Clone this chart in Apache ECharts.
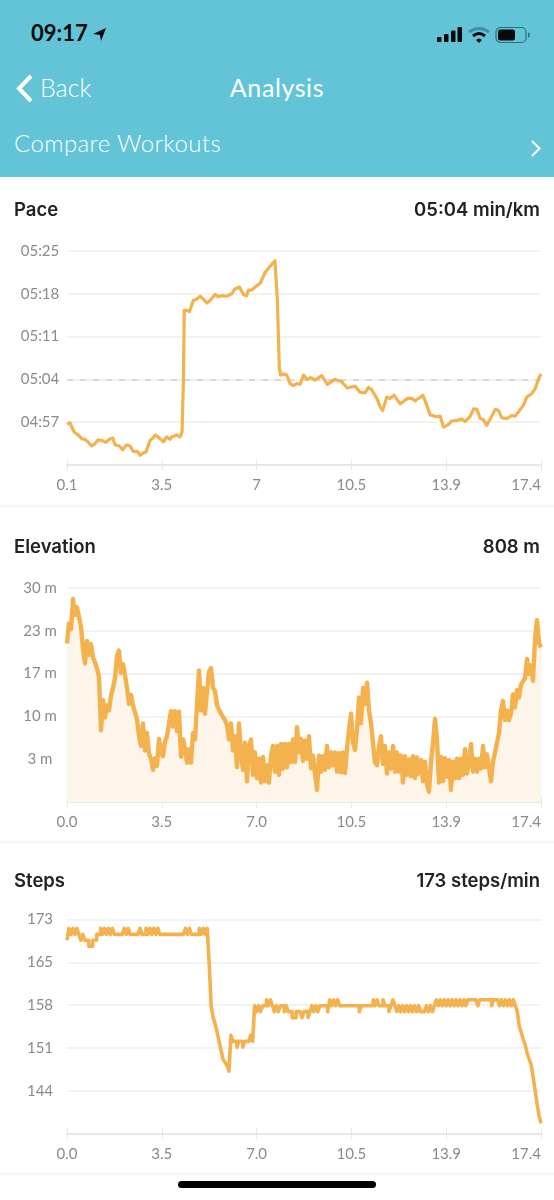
<![CDATA[<!DOCTYPE html>
<html lang="en">

<head>
    <meta charset="UTF-8">
    <meta name="viewport" content="width=device-width, initial-scale=1.0">
    <title>Analysis</title>
    <script src="https://cdn.jsdelivr.net/npm/echarts@6/dist/echarts.min.js"></script>
</head>
<style>
    html, body { margin: 0; padding: 0; background: #fff; }
    #page { position: relative; width: 554px; height: 1200px; overflow: hidden; font-family: Lato, sans-serif; }
    #chart { position: absolute; top: 0; left: 0; width: 554px; height: 1200px; }
    #top { position: absolute; top: 0; left: 0; width: 554px; height: 177px; background: #62c4d6; color: #fff; }
    #top div, #top svg { position: absolute; }
    #time { left: 31px; top: 19px; font-size: 22px; font-weight: 700; color: #0a0a0a; }
    #back { left: 40px; top: 72px; font-size: 25px; font-weight: 300; }
    #name { left: 0; width: 554px; text-align: center; top: 72px; font-size: 25px; font-weight: 400; letter-spacing: .6px; }
    #compare { left: 14px; top: 128px; font-size: 24px; font-weight: 300; letter-spacing: .4px; }
    #home { position: absolute; left: 178px; top: 1181px; width: 198px; height: 7px; border-radius: 4px; background: #000; }
</style>

<body>
    <div id="page">
        <div id="chart"></div>
        <!-- header -->
        <div id="top">
            <div id="time">09:17</div>
            <svg style="left:92px;top:27px" width="15" height="15" viewBox="0 0 15 15"><path d="M1 7 L14 1 L9 14 L8 8 Z" fill="#0a0a0a"/></svg>
            <svg style="left:436px;top:26px" width="28" height="17" viewBox="0 0 28 17" fill="#0a0a0a">
                <rect x="1" y="11" width="4.5" height="5" rx="1"/><rect x="8" y="8" width="4.5" height="8" rx="1"/>
                <rect x="15" y="4.5" width="4.5" height="11.5" rx="1"/><rect x="21.5" y="1" width="4.5" height="15" rx="1"/>
            </svg>
            <svg style="left:468px;top:26px" width="22" height="18" viewBox="0 0 22 18" fill="none">
                <path d="M1 6 Q11 -1 21 6" stroke="#3e8f9f" stroke-width="3"/>
                <path d="M5 10 Q11 5 17 10" stroke="#0a0a0a" stroke-width="3"/>
                <path d="M8 14 L11 17 L14 14 Q11 11 8 14 Z" fill="#0a0a0a"/>
            </svg>
            <svg style="left:495px;top:26px" width="36" height="18" viewBox="0 0 36 18">
                <rect x="1" y="1.5" width="30" height="15" rx="4.5" fill="none" stroke="#2a6f7c" stroke-width="1.2"/>
                <rect x="3" y="3.5" width="17" height="11" rx="2.5" fill="#0a0a0a"/>
                <rect x="33" y="6.5" width="1.6" height="5" rx=".8" fill="#2a6f7c"/>
            </svg>
            <svg style="left:16px;top:74px" width="18" height="29" viewBox="0 0 18 29"><path d="M15 2 L3 14.5 L15 27" fill="none" stroke="#fff" stroke-width="4"/></svg>
            <div id="back">Back</div>
            <div id="name">Analysis</div>
            <div id="compare">Compare Workouts</div>
            <svg style="left:530px;top:139px" width="12" height="19" viewBox="0 0 12 19"><path d="M2 2 L9.5 9.5 L2 17" fill="none" stroke="#fff" stroke-width="2"/></svg>
        </div>
        <div id="home"></div>
    </div>

    <script>
        // tick labels, bottom one of each y axis is left blank
        var distanceTicksPace = ["0.1", "3.5", "7", "10.5", "13.9", "17.4"];
        var distanceTicks = ["0.0", "3.5", "7.0", "10.5", "13.9", "17.4"];
        var paceTicks = ["", "04:57", "05:04", "05:11", "05:18", "05:25"];
        var elevationTicks = ["", "3 m", "10 m", "17 m", "23 m", "30 m"];
        var stepsTicks = ["", "144", "151", "158", "165", "173"];

        // pace, km and seconds per km
        var paceKm = [0.10, 0.21, 0.27, 0.36, 0.51, 0.64, 0.76, 0.88, 1.00, 1.12, 1.24, 1.37, 1.52, 1.67, 1.77, 1.85, 2.01, 2.13, 2.28, 2.40,
            2.52, 2.67, 2.77, 2.89, 2.98, 3.13, 3.23, 3.33, 3.47, 3.62, 3.74, 3.86, 3.92, 4.01, 4.10, 4.23, 4.30, 4.35, 4.38, 4.47,
            4.57, 4.71, 4.83, 4.96, 5.08, 5.20, 5.32, 5.50, 5.63, 5.75, 5.93, 6.11, 6.23, 6.39, 6.54, 6.66, 6.72, 6.84, 7.02, 7.15,
            7.33, 7.51, 7.69, 7.73, 7.78, 7.85, 7.90, 8.00, 8.12, 8.24, 8.36, 8.49, 8.61, 8.73, 8.87, 9.00, 9.15, 9.40, 9.60, 9.88,
            10.13, 10.33, 10.61, 10.80, 10.98, 11.10, 11.22, 11.41, 11.53, 11.62, 11.77, 11.89, 12.04, 12.26, 12.53, 12.68, 12.81, 13.09, 13.23, 13.35,
            13.60, 13.72, 13.84, 14.02, 14.14, 14.33, 14.51, 14.63, 14.81, 14.94, 15.06, 15.18, 15.30, 15.42, 15.57, 15.73, 15.85, 15.97, 16.15, 16.34,
            16.46, 16.58, 16.76, 16.88, 17.07, 17.19, 17.31, 17.40];
        var paceSec = [296.7, 296.9, 296.8, 295.4, 294.9, 294.3, 294.2, 293.7, 293.1, 293.5, 294.1, 294.0, 293.7, 294.3, 294.4, 293.3, 293.1, 292.5, 293.3, 293.1,
            292.2, 292.2, 291.6, 292.0, 292.1, 294.0, 294.4, 294.9, 294.4, 293.8, 294.6, 294.2, 294.6, 294.7, 294.9, 294.6, 295.4, 304.1, 315.3, 315.3,
            315.1, 316.9, 317.1, 317.6, 317.1, 316.5, 316.9, 317.9, 317.5, 317.7, 317.6, 318.0, 318.8, 319.1, 317.9, 317.7, 318.6, 318.6, 319.3, 319.7,
            321.5, 322.5, 323.4, 323.4, 316.7, 305.8, 304.7, 304.9, 304.7, 303.3, 303.0, 303.3, 303.2, 304.7, 304.0, 304.3, 303.9, 304.6, 303.2, 304.0,
            303.6, 302.6, 302.9, 301.9, 301.8, 302.7, 302.3, 300.9, 299.5, 298.9, 301.1, 300.9, 301.4, 300.0, 300.9, 300.9, 300.5, 301.4, 299.8, 298.2,
            297.9, 298.0, 296.2, 296.6, 297.2, 297.3, 297.5, 297.1, 297.9, 299.2, 299.1, 297.6, 297.4, 296.5, 297.7, 299.1, 298.9, 297.7, 297.6, 298.1,
            298.0, 298.7, 299.8, 301.1, 301.7, 302.5, 304.1, 304.9];

        // elevation in m, samples are evenly spaced over the distance
        var elevationM = [21.4, 24.5, 23.6, 28.3, 25.8, 27.0, 25.5, 24, 20.5, 18.3, 21.8, 19.6, 21.3, 19.2, 18.5, 17.5, 16.2, 7.9, 12.6, 9.9,
            11.8, 11, 13.3, 14.5, 16, 19.5, 20.3, 16.8, 18.2, 16.5, 14.5, 12, 13.4, 11.8, 12, 9.6, 7, 5.5, 9, 4.8,
            7.5, 4.3, 3.5, 1.8, 3.6, 2.4, 6.6, 4.5, 3.9, 6.2, 7, 9, 10.9, 8.5, 10.9, 7.8, 10.8, 3.8, 6.5, 5,
            2.9, 5, 2.9, 7.5, 6.5, 12, 17.2, 11, 14.5, 10.5, 14, 17, 17.6, 14.5, 14, 11.8, 12, 10.5, 10, 9.5,
            8.7, 6.5, 9, 4.8, 7, 2.2, 9, 4, 1.8, 6, 0, 5.5, 6.5, 1, 4.5, 0.5, 3.5, -0.2, 3.8, 0,
            2.5, -0.2, 4, 5.5, 1.5, 5.5, 1, 5.8, 2, 5.8, 2.2, 5.8, 3, 6.5, 3, 8.4, 4.5, 6.6, 3.2, 6.3,
            3.5, 7, 2, 4, 1.2, -1.3, 4, 1.5, 3.9, 1.8, 5.5, 2.2, 4.5, 2.5, 4.5, 1.5, 4.4, 1.4, 4.5, 1.3,
            5, 8, 10.5, 6, 4.9, 8, 13, 9, 14.5, 12, 15.3, 11, 9, 6, 3, 2.5, 5.5, 7, 2.7, 5.5,
            1.2, 4.5, 2, 5.5, 1.5, 4.5, 1.5, 4, -0.2, 3.9, 1, 3.4, 0.8, 3.9, 0.5, 3.7, 1.2, 3.3, 0, 3,
            -0.5, -1.6, 3, 6, 9.7, 6.5, -0.2, 3.8, 0, 3.6, 0.7, 3.3, -1.3, 3, 0.5, 3.5, 0.5, 3.5, 1, 5,
            1.2, 3, 5.8, 1.5, 3.5, 1.5, 3.5, 2, 5.5, 2.2, 4.2, 2, 0, 3, 3, 6, 7.5, 11, 12.5, 9.5,
            11, 9.5, 10.5, 13.5, 11.5, 14.2, 13, 15, 15.5, 16, 19, 16.7, 18, 15.6, 22, 25, 21.5, 20.8];

        // steps per minute, samples are evenly spaced over the distance
        var stepsPerMin = [169.5, 171.5, 170.5, 171.5, 170.5, 171.5, 170.5, 169.5, 170.5, 169.5, 169.5, 168.5, 168.5, 169.5, 169.5, 170.5, 170.5, 171.5, 170.5, 171.5,
            170.5, 171.5, 170.5, 171.5, 170.5, 170.5, 170.5, 170.5, 170.5, 171.5, 170.5, 171.5, 170.5, 170.5, 170.5, 170.5, 170.5, 171.5, 170.5, 170.5,
            171.5, 170.5, 171.5, 170.5, 171.5, 170.5, 171.5, 170.5, 170.5, 170.5, 170.5, 170.5, 170.5, 170.5, 170.5, 170.5, 170.5, 170.5, 170.5, 170.5,
            171.5, 170.5, 171.5, 170.5, 170.5, 170.5, 170.5, 171.5, 170.5, 171.5, 170.5, 171.5, 165.5, 158.5, 156.5, 155.5, 154, 152.5, 151, 149.5,
            149, 148.5, 147.5, 153.5, 152.5, 152.5, 151.5, 152.5, 152.5, 151.5, 152.5, 152.5, 152.5, 153.5, 152.5, 158.5, 157.5, 158.5, 157.5, 158.5,
            158.5, 159.5, 158.5, 159.5, 158.5, 157.5, 158.5, 157.5, 158.5, 158.5, 157.5, 158.5, 157.5, 157.5, 156.5, 156.5, 157.5, 157.5, 157.5, 156.5,
            157.5, 157.5, 156.5, 157.5, 158.5, 157.5, 158.5, 157.5, 158.5, 158.5, 158.5, 158.5, 157.5, 159.5, 158.5, 159.5, 158.5, 159.5, 158.5, 158.5,
            158.5, 158.5, 158.5, 158.5, 158.5, 158.5, 158.5, 158.5, 157.5, 158.5, 158.5, 158.5, 158.5, 158.5, 158.5, 159.5, 158.5, 159.5, 158.5, 158.5,
            159.5, 158.5, 158.5, 157.5, 158.5, 159.5, 158.5, 157.5, 158.5, 157.5, 158.5, 157.5, 158.5, 157.5, 158.5, 157.5, 158.5, 157.5, 158.5, 157.5,
            157.5, 157.5, 158.5, 157.5, 158.5, 157.5, 158.5, 159.5, 158.5, 159.5, 158.5, 159.5, 158.5, 159.5, 158.5, 159.5, 158.5, 159.5, 158.5, 159.5,
            158.5, 159.5, 158.5, 159.5, 159.5, 159.5, 159.5, 159.5, 158.5, 159.5, 159.5, 159.5, 159.5, 159.5, 159.5, 158.5, 159.5, 159.5, 159.5, 158.5,
            159.5, 158.5, 159.5, 158.5, 159.5, 158.5, 159.5, 158.5, 157.5, 155, 154, 152.8, 151.9, 150.5, 149.5, 148.6, 146.5, 144.3, 142, 140, 138.7];

        var lineColor = "#f4b24e";
        var fontName = "Inter, sans-serif";
        var axisFont = "Lato, sans-serif";

        function evenKm(list) {
            var out = [];
            for (var i = 0; i < list.length; i++) {
                out.push([i * 17.4 / (list.length - 1), list[i]]);
            }
            return out;
        }

        function pairs(xs, ys) {
            var out = [];
            for (var i = 0; i < xs.length; i++) {
                out.push([xs[i], ys[i]]);
            }
            return out;
        }

        var panels = [
            { name: "Pace", value: "05:04 min/km", head: 201, top: 251, xMin: 0.1, xStep: 3.46, xTicks: distanceTicksPace, yMin: 290, yStep: 7, yTicks: paceTicks, data: pairs(paceKm, paceSec), width: 3.2 },
            { name: "Elevation", value: "808 m", head: 538, top: 588, xMin: 0, xStep: 3.48, xTicks: distanceTicks, yMin: -3.2, yStep: 6.64, yTicks: elevationTicks, data: evenKm(elevationM), area: true, width: 4.4 },
            { name: "Steps", value: "173 steps/min", head: 872, top: 919.5, xMin: 0, xStep: 3.48, xTicks: distanceTicks, yMin: 137, yStep: 7.2, yTicks: stepsTicks, data: evenKm(stepsPerMin), stepped: true, width: 3.6 }
        ];

        var option = { animation: false, title: [], grid: [], xAxis: [], yAxis: [], series: [] };

        panels.forEach(function (p, i) {
            var headStyle = { fontFamily: fontName, fontSize: 18.5, fontWeight: 600, color: "#222" };
            option.title.push({ text: p.name, left: 14, top: p.head, padding: 0, textStyle: headStyle });
            option.title.push({ text: p.value, right: 14, top: p.head, padding: 0, textStyle: headStyle });
            option.grid.push({ left: 67, width: 474, top: p.top, height: 214 });

            var xLabel = function (v) { return p.xTicks[Math.round((v - p.xMin) / p.xStep)]; };
            var xBase = {
                type: "value", gridIndex: i, position: "bottom",
                min: p.xMin, max: p.xMin + p.xStep * 5, interval: p.xStep,
                splitLine: { show: false },
                axisLine: { onZero: false, lineStyle: { color: "#e8e8e8", width: 1.5 } }
            };
            // one axis for the labels and lower tick, a second for the upper tick
            option.xAxis.push(Object.assign({}, xBase, {
                axisTick: { show: true, length: 6, lineStyle: { color: "#e8e8e8", width: 1 } },
                axisLabel: {
                    formatter: xLabel, color: "#8a8a8a", fontFamily: axisFont, fontSize: 15, margin: 13,
                    showMaxLabel: true, alignMaxLabel: "right"
                }
            }));
            option.xAxis.push(Object.assign({}, xBase, {
                axisTick: { show: true, inside: true, length: 6, lineStyle: { color: "#e8e8e8", width: 1 } },
                axisLabel: { show: false }
            }));
            option.yAxis.push({
                type: "value", gridIndex: i,
                min: p.yMin, max: p.yMin + p.yStep * 5, interval: p.yStep,
                axisLine: { show: false }, axisTick: { show: false },
                splitLine: { lineStyle: { color: "#eeeeee", width: 1.5 } },
                axisLabel: {
                    formatter: function (v) { return p.yTicks[Math.round((v - p.yMin) / p.yStep)]; },
                    color: "#8a8a8a", fontFamily: axisFont, fontSize: 15, margin: 27, align: "center",
                    padding: [3, 0, 0, 0]
                }
            });

            var s = {
                type: "line", xAxisIndex: i * 2, yAxisIndex: i, data: p.data,
                showSymbol: false, smooth: false, clip: false, sampling: null,
                step: p.stepped ? "end" : false,
                lineStyle: { color: lineColor, width: p.width, join: "round" }
            };
            if (p.area) {
                s.areaStyle = { color: "#fdf5ea", opacity: 1, origin: "start" };
            }
            if (i == 0) {
                s.markLine = {
                    silent: true, symbol: "none", label: { show: false }, z: 1,
                    data: [{ yAxis: 304 }],
                    lineStyle: { color: "#cfcfd4", type: [6, 7], width: 1.5 }
                };
            }
            option.series.push(s);
        });

        // thin rules between the panels
        option.graphic = [506, 842, 1174].map(function (y) {
            return { type: "line", shape: { x1: 0, y1: y, x2: 554, y2: y }, style: { stroke: "#eeeeee", lineWidth: 1 } };
        });

        var myChart = echarts.init(document.getElementById("chart"), null, { renderer: "canvas" });
        myChart.setOption(option);
    </script>
</body>

</html>
]]>
